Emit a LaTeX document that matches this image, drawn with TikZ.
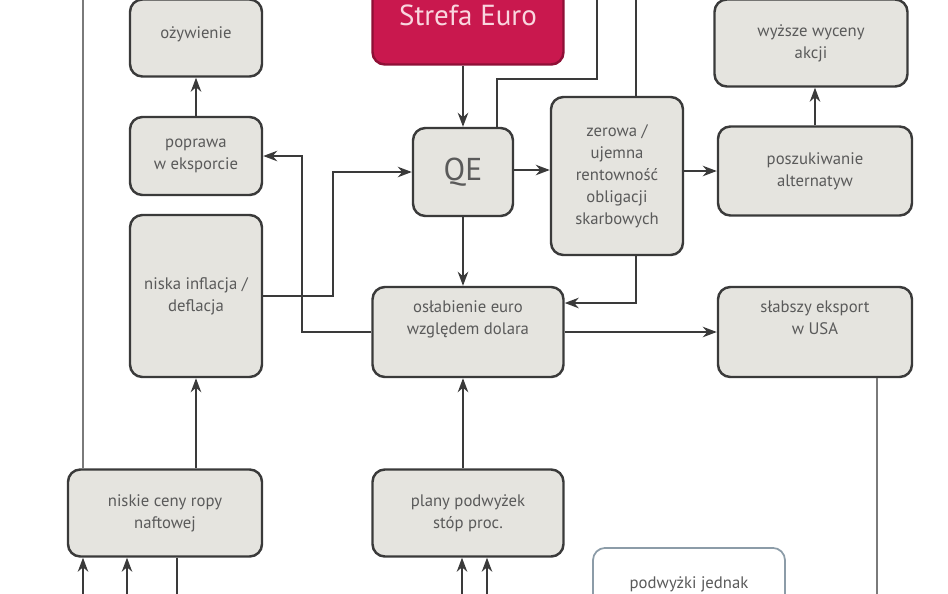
\documentclass[tikz,border=0pt]{standalone}
\usepackage{fontspec}
\setmainfont{PT Sans}
\usetikzlibrary{arrows.meta,calc}
\definecolor{boxfill}{HTML}{E5E4DF}
\definecolor{boxline}{HTML}{3A3A3A}
\definecolor{boxtext}{HTML}{5A5A5A}
\definecolor{euro}{HTML}{C9184E}
\definecolor{euroline}{HTML}{8E1036}
\definecolor{eurotext}{HTML}{F9D6DF}
\definecolor{noteline}{HTML}{8C9CA8}
\definecolor{farline}{HTML}{7A7A7A}

\begin{document}
\begin{tikzpicture}[x=0.02cm,y=-0.02cm,
    wh/.style 2 args={minimum width=#1*0.02cm,minimum height=#2*0.02cm},
    box/.style={draw=boxline,line width=1.4pt,fill=boxfill,rounded corners=7pt,
      text=boxtext,align=center,inner sep=0pt,font=\fontsize{9.5}{12.5}\selectfont},
    eurobox/.style={draw=euroline,line width=1.4pt,fill=euro,rounded corners=7pt,
      text=eurotext,inner sep=0pt,font=\fontsize{16.5}{18}\selectfont},
    note/.style={draw=noteline,line width=1pt,fill=white,rounded corners=7pt,
      text=boxtext,minimum width=192*0.02cm,inner ysep=16pt,text height=7pt,
      font=\fontsize{9.5}{12.5}\selectfont},
    lift/.style={text depth=16pt},
    arr/.style={draw=boxline,line width=0.9pt,-{Stealth[length=8pt,width=6pt]}},
    line/.style={draw=boxline,line width=0.9pt},
    far/.style={draw=farline,line width=0.9pt}]
    \useasboundingbox (0,0) rectangle (948,593);

    \node[box,wh={132}{77},text depth=6pt] (ozyw) at (196,38) {ożywienie};
    \node[box,wh={132}{78}] (popr) at (196,156) {poprawa\\w eksporcie};
    \node[box,wh={132}{162}] (infl) at (196,296) {niska inflacja /\\deflacja};
    \node[box,wh={194}{87}] (ropa) at (165,513) {niskie ceny ropy\\naftowej};

    \node[eurobox,wh={191}{99}] (strefa) at (468,15) {Strefa Euro};
    \node[box,wh={100}{88},font=\fontsize{18}{20}\selectfont] (qe) at (463,172) {QE};
    \node[box,wh={191}{90},lift] (osl) at (468,332) {osłabienie euro\\względem dolara};
    \node[box,wh={191}{87}] (plany) at (468,513) {plany podwyżek\\stóp proc.};

    \node[box,wh={132}{158}] (zer) at (617,176) {zerowa /\\ujemna\\rentowność\\obligacji\\skarbowych};
    \node[box,wh={193}{87}] (wyz) at (811,43) {wyższe wyceny\\akcji};
    \node[box,wh={194}{89}] (posz) at (815,171) {poszukiwanie\\alternatyw};
    \node[box,wh={194}{90},lift] (slab) at (815,332) {słabszy eksport\\w USA};

    \node[note,anchor=north] (podw) at (689,547) {podwyżki jednak};

    % loose ends outside the frame
    \coordinate (topL) at (83,-5);
    \coordinate (topA) at (597,-5);
    \coordinate (topB) at (636,-5);
    \coordinate (botR) at (877,600);
    \coordinate (bot1) at (83,600);
    \coordinate (bot2) at (127,600);
    \coordinate (bot3) at (177,600);
    \coordinate (bot4) at (462,600);
    \coordinate (bot5) at (487,600);

    \path (popr) edge[arr] (ozyw)
          (osl) edge[arr] (slab);

    \draw[far] (topL) -- (topL |- ropa.north);
    \draw[arr] (infl.south |- ropa.north) -- (infl.south);
    \draw[arr] (bot1) -- (bot1 |- ropa.south);
    \draw[arr] (bot2) -- (bot2 |- ropa.south);
    \draw[line] (bot3 |- ropa.south) -- (bot3);

    \draw[arr] (infl.east) -- ++(70,0) |- (qe.west);
    \draw[arr] (osl.west) -- (302,332) |- (popr.east);

    \draw[arr] (strefa.south -| qe.north) -- (qe.north);
    \draw[line] ($(qe.north)+(34,0)$) -- ++(0,-48) -| (topA);
    \draw[line] (topB) -- (topB |- zer.north);
    \draw[arr] (topB |- zer.south) |- ($(osl.east)+(0,-29)$);
    \draw[arr] ($(qe.east)+(0,-2)$) -- ($(qe.east -| zer.west)+(0,-2)$);
    \draw[arr] (zer.east |- posz.west) -- (posz.west);
    \draw[arr] (posz.north) -- (posz.north |- wyz.south);
    \draw[arr] (qe.south) -- (qe.south |- osl.north);

    \draw[far] (botR |- slab.south) -- (botR);
    \draw[arr] (qe.south |- plany.north) -- (qe.south |- osl.south);
    \draw[arr] (bot4) -- (bot4 |- plany.south);
    \draw[arr] (bot5) -- (bot5 |- plany.south);
\end{tikzpicture}
\end{document}
